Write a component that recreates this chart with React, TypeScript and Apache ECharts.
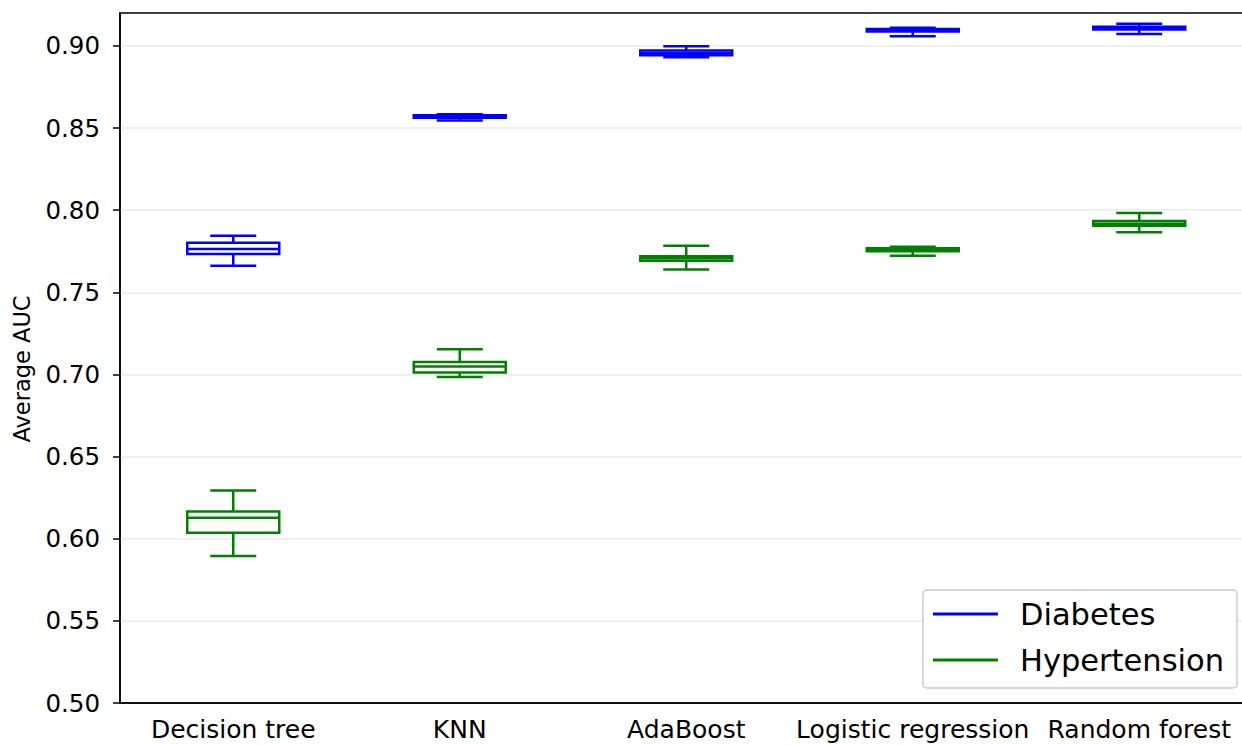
import React, { useEffect, useRef } from "react";
import * as echarts from "echarts";

const categories = ["Decision tree", "KNN", "AdaBoost", "Logistic regression", "Random forest"];
// [min, q1, median, q3, max]
const diabetesStats = [
  [0.7661, 0.7733, 0.7763, 0.7802, 0.7844],
  [0.8545, 0.8563, 0.857, 0.8577, 0.8584],
  [0.893, 0.8943, 0.8957, 0.8971, 0.8998],
  [0.9058, 0.9087, 0.9094, 0.9102, 0.911],
  [0.9072, 0.9099, 0.9108, 0.9117, 0.9135],
];
const hypertensionStats = [
  [0.5895, 0.6037, 0.6128, 0.6165, 0.6293],
  [0.6984, 0.7011, 0.7048, 0.7075, 0.7154],
  [0.7639, 0.7692, 0.7707, 0.772, 0.7783],
  [0.7722, 0.775, 0.7759, 0.7768, 0.7777],
  [0.7866, 0.7905, 0.7917, 0.7934, 0.7982],
];
const seriesNames = ["Diabetes", "Hypertension"];
const seriesColors = ["#0000ff", "#008000"];
const yAxisTitle = "Average AUC";

const FONT = "DejaVu Sans";

function makeRenderItem(color: string) {
  return (params: any, api: any) => {
    const cat = api.value(0);
    const vMin = api.value(1);
    const q1 = api.value(2);
    const med = api.value(3);
    const q3 = api.value(4);
    const vMax = api.value(5);
    const band = api.size([1, 0])[0];
    const half = band * 0.203;
    const capHalf = band * 0.1015;
    const pMin = api.coord([cat, vMin]);
    const pQ1 = api.coord([cat, q1]);
    const pMed = api.coord([cat, med]);
    const pQ3 = api.coord([cat, q3]);
    const pMax = api.coord([cat, vMax]);
    const cx = pMed[0];
    const style = { fill: "none", stroke: color, lineWidth: 2.5 };
    return {
      type: "group",
      children: [
        { type: "line", shape: { x1: cx, y1: pQ3[1], x2: cx, y2: pMax[1] }, style },
        { type: "line", shape: { x1: cx, y1: pQ1[1], x2: cx, y2: pMin[1] }, style },
        { type: "line", shape: { x1: cx - capHalf, y1: pMax[1], x2: cx + capHalf, y2: pMax[1] }, style },
        { type: "line", shape: { x1: cx - capHalf, y1: pMin[1], x2: cx + capHalf, y2: pMin[1] }, style },
        {
          type: "rect",
          shape: { x: cx - half, y: pQ3[1], width: half * 2, height: pQ1[1] - pQ3[1] },
          style,
        },
        { type: "line", shape: { x1: cx - half, y1: pMed[1], x2: cx + half, y2: pMed[1] }, style },
      ],
    };
  };
}

export default function App() {
  const ref = useRef<HTMLDivElement>(null);
  useEffect(() => {
    document.body.style.margin = "0";
    const chart = echarts.init(ref.current!, null, { renderer: "svg" });
    const allStats = [diabetesStats, hypertensionStats];
    chart.setOption({
      animation: false,
      backgroundColor: "#ffffff",
      grid: {
        left: 120,
        top: 13,
        width: 1132.5,
        height: 690,
        show: true,
        borderColor: "#000000",
        borderWidth: 1.5,
        backgroundColor: "transparent",
        containLabel: false,
        outerBoundsMode: "none",
      },
      graphic: [
        {
          type: "text",
          x: 22,
          y: 369,
          rotation: Math.PI / 2,
          style: {
            text: yAxisTitle,
            fontFamily: FONT,
            fontSize: 22.5,
            fill: "#000000",
            align: "center",
            verticalAlign: "middle",
          },
        },
      ],
      legend: {
        orient: "vertical",
        right: 5,
        bottom: 57,
        backgroundColor: "#ffffff",
        borderColor: "#cccccc",
        borderWidth: 1.5,
        borderRadius: 4,
        padding: [8, 13, 12, 10],
        itemWidth: 65,
        itemHeight: 3,
        itemGap: 14,
        textStyle: {
          fontFamily: FONT,
          fontSize: 30.5,
          color: "#000000",
          lineHeight: 32,
          padding: [0, 0, 0, 17],
        },
        data: seriesNames.map((n, i) => ({
          name: n,
          icon: "rect",
          itemStyle: { color: seriesColors[i] },
        })),
      },
      xAxis: {
        type: "category",
        data: categories,
        axisLine: { lineStyle: { color: "#000000", width: 1.5 } },
        axisTick: { alignWithLabel: true, length: 7, lineStyle: { color: "#000000", width: 1.5 } },
        axisLabel: { color: "#000000", fontFamily: FONT, fontSize: 25, margin: 14, interval: 0 },
        splitLine: { show: false },
      },
      yAxis: {
        type: "value",
        min: 0.5,
        max: 0.92,
        interval: 0.05,
        axisLine: { show: true, lineStyle: { color: "#000000", width: 1.5 } },
        axisTick: { show: true, length: 7, lineStyle: { color: "#000000", width: 1.5 } },
        axisLabel: {
          color: "#000000",
          fontFamily: FONT,
          fontSize: 24.5,
          margin: 20,
          showMaxLabel: false,
          formatter: (v: number) => v.toFixed(2),
        },
        splitLine: {
          show: true,
          showMinLine: false,
          showMaxLine: false,
          lineStyle: { color: "#ebebeb", width: 1.5 },
        },
      },
      series: seriesNames.map((name, si) => ({
        type: "custom",
        name,
        itemStyle: { color: seriesColors[si] },
        renderItem: makeRenderItem(seriesColors[si]),
        encode: { x: 0, y: [1, 2, 3, 4, 5] },
        data: allStats[si].map((s, i) => [i, ...s]),
        z: 3,
      })),
    });
    return () => chart.dispose();
  }, []);
  return <div ref={ref} style={{ width: 1242, height: 745 }} />;
}
